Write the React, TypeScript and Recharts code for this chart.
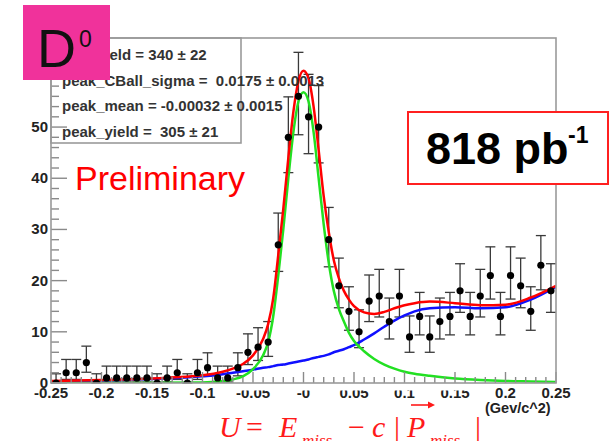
import React from "react";
import { ComposedChart, Line, Scatter, ErrorBar, XAxis, YAxis } from "recharts";

// histogram bins (centres, GeV/c^2) and counts per 0.01 bin
const binCenters = [
  -0.245, -0.235, -0.225, -0.215, -0.205, -0.195, -0.185, -0.175, -0.165, -0.155,
  -0.145, -0.135, -0.125, -0.115, -0.105, -0.095, -0.085, -0.075, -0.065, -0.055,
  -0.045, -0.035, -0.025, -0.015, -0.005, 0.005, 0.015, 0.025, 0.035, 0.045,
  0.055, 0.065, 0.075, 0.085, 0.095, 0.105, 0.115, 0.125, 0.135, 0.145,
  0.155, 0.165, 0.175, 0.185, 0.195, 0.205, 0.215, 0.225, 0.235, 0.245,
];
const counts = [
  0, 2, 2, 4, 0, 1, 1, 1, 1, 1,
  0, 1, 2, 0, 2, 3, 1, 1, 3, 6,
  7, 8, 27, 48, 56, 52, 50, 28, 19, 14,
  10, 16, 17, 12, 17, 9, 13, 9, 12, 13,
  18, 13, 17, 21, 13, 21, 19, 14, 23, 18,
];
const errLow = [
  0, 1.3, 1.3, 1.9, 0, 0.8, 0.8, 0.8, 0.8, 0.8,
  0, 0.8, 1.3, 0, 1.3, 1.6, 0.8, 0.8, 1.6, 2.4,
  2.6, 2.8, 5.2, 6.9, 7.5, 7.2, 7.0, 5.3, 4.3, 3.7,
  3.1, 4.0, 4.1, 3.4, 4.1, 3.0, 3.6, 3.0, 3.4, 3.6,
  4.2, 3.6, 4.1, 4.6, 3.6, 4.6, 4.3, 3.7, 4.8, 4.2,
];
const errHigh = [
  1.8, 2.6, 2.6, 3.2, 1.8, 2.3, 2.3, 2.3, 2.3, 2.3,
  1.8, 2.3, 2.6, 1.8, 2.6, 2.9, 2.3, 2.3, 2.9, 3.6,
  3.8, 4.0, 6.2, 7.9, 8.6, 8.3, 8.1, 6.3, 5.4, 4.8,
  4.3, 5.1, 5.2, 4.6, 5.2, 4.1, 4.7, 4.1, 4.6, 4.7,
  5.3, 4.7, 5.2, 5.6, 4.7, 5.6, 5.4, 4.8, 5.8, 5.3,
];

// fitted curves sampled along U
const curveX = [
  -0.25, -0.2, -0.15, -0.1, -0.08, -0.07, -0.06, -0.05, -0.04, -0.035,
  -0.03, -0.025, -0.02, -0.015, -0.01, -0.005, 0, 0.005, 0.01, 0.015,
  0.02, 0.025, 0.03, 0.035, 0.04, 0.045, 0.05, 0.06, 0.07, 0.08,
  0.09, 0.1, 0.11, 0.125, 0.15, 0.175, 0.2, 0.225, 0.25,
];
const bkgCurve = [
  0.3, 0.5, 0.8, 1.3, 1.7, 2.0, 2.3, 2.6, 3.0, 3.1,
  3.3, 3.5, 3.6, 3.8, 4.0, 4.2, 4.4, 4.6, 4.9, 5.1,
  5.3, 5.6, 6.0, 6.3, 6.6, 7.0, 7.4, 8.5, 9.7, 11.0,
  12.2, 13.2, 14.0, 14.6, 14.8, 14.6, 14.8, 16.3, 18.8,
];
const sigCurve = [
  0, 0, 0.05, 0.1, 0.4, 0.7, 1.3, 2.7, 5.4, 8,
  13, 21, 30, 40, 49, 55, 56.8, 55, 49, 40,
  31, 23.5, 18, 14.5, 12, 9.8, 8.2, 6.2, 4.7, 3.6,
  2.8, 2.2, 1.8, 1.4, 0.9, 0.6, 0.4, 0.3, 0.2,
];
const totCurve = [
  0.4, 0.6, 0.9, 1.5, 2.2, 2.8, 3.7, 5.4, 8.6, 11.5,
  16.5, 25, 34, 44, 53, 59, 61, 59.5, 54, 45.5,
  36.5, 29.5, 24, 20.5, 18, 16.3, 15, 13.8, 13.5, 13.9,
  14.6, 15.2, 15.6, 15.9, 15.6, 15.2, 15.3, 16.7, 19,
];

const xTickLabels = ["-0.25", "-0.2", "-0.15", "-0.1", "-0.05", "-0", "0.05", "0.1", "0.15", "0.2", "0.25"];
const yTickLabels = ["0", "10", "20", "30", "40", "50"];

const fitLines = [
  { key: "bkg", text: "bkg_yield = 340 \u00b1 22" },
  { key: "sigma", text: "peak_CBall_sigma =  0.0175 \u00b1 0.0013" },
  { key: "mean", text: "peak_mean = -0.00032 \u00b1 0.0015" },
  { key: "yield", text: "peak_yield =  305 \u00b1 21" },
];

const W = 611;
const H = 441;
const PLOT = { left: 51, right: 556, top: 38, bottom: 383 };
const xTicks = Array.from({ length: 51 }, (_, i) => (i - 25) / 100);
const yTicks = Array.from({ length: 34 }, (_, i) => i * 2);

const points = binCenters.map((x, i) => ({ x, y: counts[i], err: [errLow[i], errHigh[i]] }));
const curves = curveX.map((x, i) => ({ x, bkg: bkgCurve[i], sig: sigCurve[i], tot: totCurve[i] }));

const tickFont = { fontFamily: "Liberation Sans, Arial, sans-serif", fontWeight: 700, fontSize: 15, fill: "#222" };

function XTick(props: any) {
  const { x, payload } = props;
  const step = Math.round(payload.value * 100);
  const major = step % 5 === 0;
  return (
    <g>
      <line x1={x} x2={x} y1={PLOT.bottom} y2={PLOT.bottom - (major ? 11 : 6)} stroke="#8a8a8a" strokeWidth={1.4} />
      {major ? (
        <text x={x} y={398} textAnchor="middle" {...tickFont}>
          {xTickLabels[(step + 25) / 5]}
        </text>
      ) : null}
    </g>
  );
}

function YTick(props: any) {
  const { y, payload } = props;
  const v = payload.value;
  const major = v % 10 === 0;
  const label = major ? yTickLabels[v / 10] : undefined;
  return (
    <g>
      <line x1={PLOT.left} x2={PLOT.left + (major ? 16 : 8)} y1={y} y2={y} stroke="#8a8a8a" strokeWidth={1.4} />
      {label ? (
        <text x={48} y={y + 5} textAnchor="end" {...tickFont}>
          {label}
        </text>
      ) : null}
    </g>
  );
}

function Dot(props: any) {
  return <circle cx={props.cx} cy={props.cy} r={3.6} fill="#000" />;
}

export default function App() {
  const serif = "Liberation Serif, Times New Roman, serif";
  const sans = "Liberation Sans, Arial, sans-serif";
  const red = "#ff1a1a";
  return (
    <div style={{ position: "absolute", left: 0, top: 0, width: W, height: H, background: "#fff" }}>
      <ComposedChart
        width={W}
        height={H}
        data={curves}
        margin={{ top: PLOT.top, right: W - PLOT.right, left: PLOT.left - 30, bottom: H - PLOT.bottom - 20 }}
      >
        <XAxis
          dataKey="x"
          type="number"
          domain={[-0.25, 0.25]}
          ticks={xTicks}
          interval={0}
          tick={<XTick />}
          tickLine={false}
          axisLine={false}
          height={20}
          allowDataOverflow
        />
        <YAxis
          type="number"
          domain={[0, 67.4]}
          ticks={yTicks}
          interval={0}
          tick={<YTick />}
          tickLine={false}
          axisLine={false}
          width={30}
          allowDataOverflow
        />
        <Scatter data={points} dataKey="y" shape={<Dot />} isAnimationActive={false}>
          <ErrorBar dataKey="err" direction="y" width={5} stroke="#3a3a3a" strokeWidth={1.3} />
        </Scatter>
        <Line dataKey="bkg" type="monotone" stroke="#1010ff" strokeWidth={2.5} dot={false} activeDot={false} isAnimationActive={false} />
        <Line dataKey="sig" type="monotone" stroke="#22e022" strokeWidth={2.5} dot={false} activeDot={false} isAnimationActive={false} />
        <Line dataKey="tot" type="monotone" stroke="#ff0000" strokeWidth={2.5} dot={false} activeDot={false} isAnimationActive={false} />
      </ComposedChart>

      <svg width={W} height={H} style={{ position: "absolute", left: 0, top: 0, pointerEvents: "none" }}>
        {/* frame */}
        <rect x={PLOT.left} y={PLOT.top} width={PLOT.right - PLOT.left} height={PLOT.bottom - PLOT.top} fill="none" stroke="#9a9a9a" strokeWidth={1.6} />
        {/* tick labels partly hidden under the formula panel */}
        <rect x={215} y={384.5} width={255} height={6} fill="#fff" />

        {/* fit parameter box */}
        <rect x={PLOT.left} y={PLOT.top} width={190} height={105} fill="none" stroke="#9a9a9a" strokeWidth={1.6} />
        {fitLines.map((l, i) => (
          <text key={l.key} x={62} y={60 + i * 25.7} fontFamily={sans} fontWeight={700} fontSize={15} fill="#333" style={{ whiteSpace: "pre" }}>
            {l.text}
          </text>
        ))}

        {/* particle tag */}
        <rect x={23} y={5} width={87} height={75} fill="#f0329b" />
        <text x={37} y={67} fontFamily={sans} fontSize={54} fill="#111">D</text>
        <text x={79} y={47} fontFamily={sans} fontSize={23} fill="#111">0</text>

        <text x={75} y={190} fontFamily={sans} fontSize={34} fill="#ff0000">Preliminary</text>

        {/* luminosity */}
        <rect x={408} y={112} width={200} height={72} fill="#fff" stroke="#ff2020" strokeWidth={2} />
        <text x={426} y={164} fontFamily={sans} fontWeight={700} fontSize={45} fill="#000">818 pb</text>
        <text x={568} y={143} fontFamily={sans} fontWeight={700} fontSize={23} fill="#000">-1</text>

        <text x={485} y={413} fontFamily={sans} fontWeight={700} fontSize={14.5} fill="#222">(Gev/c^2)</text>

        {/* axis title */}
        <g fill={red} fontFamily={serif} fontSize={30}>
          <text x={219} y={437} fontStyle="italic">U</text>
          <text x={246} y={437}>=</text>
          <text x={279} y={437} fontStyle="italic">E</text>
          <text x={302} y={446} fontStyle="italic" fontSize={17}>miss</text>
          <text x={348} y={437}>{"\u2212"}</text>
          <text x={372} y={437} fontStyle="italic">c</text>
          <text x={394} y={437}>|</text>
          <text x={407} y={437} fontStyle="italic">P</text>
          <text x={430} y={446} fontStyle="italic" fontSize={17}>miss</text>
          <text x={475} y={437}>|</text>
        </g>
        <line x1={411} x2={432} y1={405} y2={405} stroke={red} strokeWidth={1.6} />
        <path d="M 428 401.5 L 435 405 L 428 408.5 Z" fill={red} />
      </svg>
    </div>
  );
}
